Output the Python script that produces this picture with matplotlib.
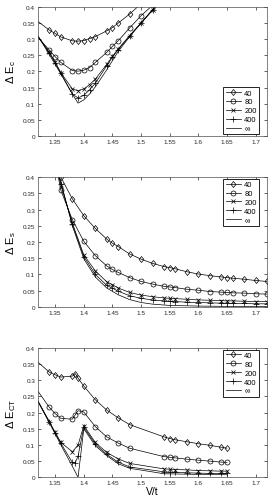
import numpy as np
import matplotlib
matplotlib.use("Agg")
import matplotlib.pyplot as plt

plt.rcParams['font.family'] = ['Liberation Sans', 'DejaVu Sans']
plt.rcParams['mathtext.fontset'] = 'custom'
plt.rcParams['mathtext.rm'] = 'Liberation Sans'

labels = ['40', '80', '200', '400', '\u221e']

# ---- Delta E_c ----
c_x = [1.30, 1.34, 1.35, 1.36, 1.38, 1.39, 1.40, 1.41, 1.42, 1.44, 1.45, 1.46, 1.48, 1.50, 1.52, 1.54]
c_40 = [0.382, 0.328, 0.318, 0.307, 0.295, 0.294, 0.296, 0.302, 0.308, 0.326, 0.336, 0.350, 0.378, 0.41, 0.44, 0.47]
c_80 = [0.345, 0.266, 0.246, 0.228, 0.203, 0.201, 0.204, 0.212, 0.228, 0.259, 0.278, 0.295, 0.335, 0.373, 0.405, 0.44]
c_200 = [0.36, 0.259, 0.229, 0.196, 0.146, 0.140, 0.146, 0.159, 0.176, 0.222, 0.247, 0.270, 0.311, 0.351, 0.392, 0.43]
c_400 = [0.36, 0.257, 0.227, 0.195, 0.130, 0.118, 0.126, 0.143, 0.163, 0.218, 0.244, 0.268, 0.310, 0.350, 0.390, 0.43]
c_inf_x = [1.30, 1.32, 1.34, 1.36, 1.38, 1.39, 1.40, 1.41, 1.42, 1.44, 1.46, 1.48, 1.50, 1.52, 1.54]
c_inf = [0.37, 0.31, 0.252, 0.192, 0.13, 0.102, 0.112, 0.13, 0.152, 0.205, 0.262, 0.308, 0.35, 0.39, 0.43]

# ---- Delta E_s ----
s_x = [1.35, 1.36, 1.38, 1.40, 1.42, 1.44, 1.45, 1.46, 1.48, 1.50, 1.52, 1.54, 1.55, 1.56,
       1.58, 1.60, 1.62, 1.64, 1.65, 1.66, 1.68, 1.70, 1.72]
s_40 = [0.45, 0.400, 0.333, 0.281, 0.242, 0.209, 0.196, 0.186, 0.163, 0.147, 0.134, 0.124, 0.121, 0.117,
        0.108, 0.101, 0.096, 0.092, 0.090, 0.088, 0.085, 0.081, 0.078]
s_80 = [0.45, 0.359, 0.269, 0.202, 0.158, 0.126, 0.115, 0.106, 0.090, 0.078, 0.070, 0.063, 0.061, 0.059,
        0.054, 0.051, 0.047, 0.045, 0.044, 0.043, 0.042, 0.040, 0.039]
s_200 = [0.45, 0.375, 0.258, 0.160, 0.111, 0.077, 0.068, 0.058, 0.044, 0.036, 0.031, 0.027, 0.026, 0.025,
         0.023, 0.021, 0.020, 0.019, 0.018, 0.018, 0.017, 0.016, 0.016]
s_400 = [0.45, 0.38, 0.255, 0.155, 0.100, 0.066, 0.057, 0.048, 0.034, 0.026, 0.021, 0.018, 0.017, 0.016,
         0.014, 0.013, 0.012, 0.011, 0.011, 0.010, 0.010, 0.009, 0.009]
s_inf_x = [1.34, 1.36, 1.38, 1.40, 1.42, 1.44, 1.46, 1.48, 1.50, 1.52, 1.55, 1.60, 1.65, 1.72]
s_inf = [0.50, 0.385, 0.25, 0.148, 0.092, 0.058, 0.037, 0.022, 0.013, 0.008, 0.004, 0.002, 0.001, 0.0005]

# ---- Delta E_CT ----
ct_x40 = [1.30, 1.34, 1.35, 1.36, 1.38, 1.385, 1.39, 1.40, 1.42, 1.44, 1.46, 1.48,
          1.54, 1.55, 1.56, 1.58, 1.60, 1.62, 1.64, 1.65]
ct_40 = [0.387, 0.325, 0.317, 0.310, 0.313, 0.321, 0.307, 0.282, 0.240, 0.208, 0.184, 0.163,
         0.125, 0.120, 0.116, 0.110, 0.104, 0.099, 0.093, 0.090]
ct_80 = [0.316, 0.216, 0.197, 0.182, 0.180, 0.193, 0.206, 0.202, 0.157, 0.125, 0.106, 0.090,
         0.064, 0.062, 0.060, 0.056, 0.053, 0.050, 0.047, 0.046]
ct_x200 = [1.30, 1.34, 1.35, 1.36, 1.38, 1.39, 1.40, 1.42, 1.44, 1.46, 1.48,
           1.54, 1.55, 1.56, 1.58, 1.60, 1.62, 1.64, 1.65]
ct_200 = [0.30, 0.172, 0.139, 0.108, 0.079, 0.100, 0.160, 0.108, 0.077, 0.057, 0.043,
          0.026, 0.025, 0.024, 0.023, 0.021, 0.020, 0.019, 0.019]
ct_400 = [0.30, 0.170, 0.137, 0.105, 0.046, 0.045, 0.066, 0.155, 0.103, 0.071, 0.047, 0.032,
          0.017, 0.016, 0.016, 0.014, 0.013, 0.012, 0.012, 0.012]
ct_inf_x = [1.30, 1.34, 1.36, 1.38, 1.39, 1.40, 1.42, 1.44, 1.46, 1.48, 1.54, 1.60, 1.65]
ct_inf = [0.30, 0.168, 0.10, 0.034, 0.0, 0.150, 0.098, 0.067, 0.042, 0.028, 0.011, 0.009, 0.008]

diamond = [(0, -1), (0.8, 0), (0, 1), (-0.8, 0), (0, -1)]
styles = [dict(marker=diamond, ms=4.3), dict(marker='o', ms=3.6),
          dict(marker='x', ms=3.0), dict(marker='+', ms=4.2), dict(marker=None)]

fig = plt.figure(figsize=(2.72, 5.02), dpi=100)
rects = [[0.1397, 0.7271, 0.842, 0.257],
         [0.1397, 0.3870, 0.842, 0.258],
         [0.1397, 0.0472, 0.842, 0.2576]]

panels = [
    ([(c_x, c_40), (c_x, c_80), (c_x, c_200), (c_x, c_400), (c_inf_x, c_inf)],
     r'$\Delta$ E$_\mathrm{c}$', 'lower right', (0.965, 0.012)),
    ([(s_x, s_40), (s_x, s_80), (s_x, s_200), (s_x, s_400), (s_inf_x, s_inf)],
     r'$\Delta$ E$_\mathrm{s}$', 'upper right', (0.965, 0.988)),
    ([(ct_x40, ct_40), (ct_x40, ct_80), (ct_x200, ct_200), (ct_x40, ct_400), (ct_inf_x, ct_inf)],
     r'$\Delta$ E$_\mathrm{CT}$', 'upper right', (0.965, 0.988)),
]

for rect, (series, ylab, loc, anchor) in zip(rects, panels):
    ax = fig.add_axes(rect)
    for (xs, ys), st, lab in zip(series, styles, labels):
        ax.plot(xs, ys, color='k', lw=0.5, mfc='none', mec='k', mew=0.5, label=lab, **st)
    ax.set_xlim(1.32, 1.72)
    ax.set_ylim(0, 0.4)
    ax.set_xticks(np.arange(1.35, 1.701, 0.05))
    ax.set_xticklabels(['1.35', '1.4', '1.45', '1.5', '1.55', '1.6', '1.65', '1.7'])
    ax.set_yticks(np.arange(0, 0.401, 0.05))
    ax.set_yticklabels(['0', '0.05', '0.1', '0.15', '0.2', '0.25', '0.3', '0.35', '0.4'])
    ax.tick_params(direction='in', length=2, width=0.5, labelsize=4.6, pad=2,
                   top=True, right=True, colors='0.15')
    for sp in ax.spines.values():
        sp.set_linewidth(0.5)
        sp.set_color('0.3')
    ax.set_ylabel(ylab, fontsize=8, labelpad=3)
    leg = ax.legend(loc=loc, bbox_to_anchor=anchor, borderaxespad=0, fontsize=5.4,
                    fancybox=False, framealpha=1, edgecolor='k', handlelength=2.0,
                    handletextpad=0.5, labelspacing=0.22, borderpad=0.3)
    leg.get_frame().set_linewidth(0.6)

ax.set_xlabel('V/t', fontsize=7.5, labelpad=0.5)

fig.savefig('out.png', dpi=100)
